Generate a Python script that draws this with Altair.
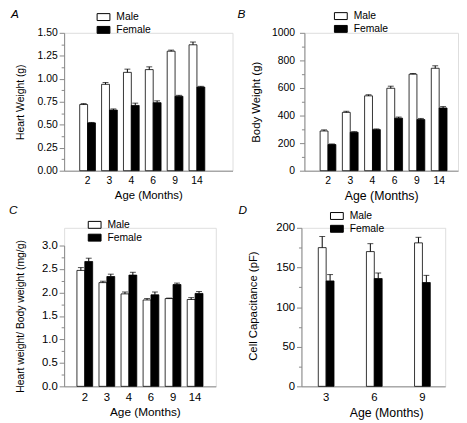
import altair as alt
import pandas as pd

FONT = "Liberation Sans"
sexes = ["Male", "Female"]

# Panel A: heart weight (g)
ages_abc = ["2", "3", "4", "6", "9", "14"]
heart_male = [0.72, 0.94, 1.07, 1.10, 1.30, 1.37]
heart_male_err = [0.01, 0.02, 0.035, 0.03, 0.012, 0.03]
heart_female = [0.52, 0.66, 0.71, 0.74, 0.81, 0.91]
heart_female_err = [0.005, 0.012, 0.025, 0.02, 0.01, 0.008]
heart_major = [0, 0.25, 0.5, 0.75, 1.0, 1.25, 1.5]
heart_minor = [0.125, 0.375, 0.625, 0.875, 1.125, 1.375]

# Panel B: body weight (g)
body_male = [288, 423, 543, 598, 700, 743]
body_male_err = [8, 8, 8, 15, 5, 18]
body_female = [190, 279, 298, 381, 371, 455]
body_female_err = [4, 4, 5, 8, 8, 10]
body_major = [0, 200, 400, 600, 800, 1000]
body_minor = [100, 300, 500, 700, 900]

# Panel C: heart weight / body weight (mg/g)
ratio_male = [2.47, 2.21, 1.97, 1.84, 1.87, 1.85]
ratio_male_err = [0.06, 0.03, 0.04, 0.03, 0.01, 0.04]
ratio_female = [2.66, 2.34, 2.37, 1.95, 2.17, 1.98]
ratio_female_err = [0.07, 0.05, 0.06, 0.06, 0.03, 0.04]
ratio_major = [0, 0.5, 1.0, 1.5, 2.0, 2.5, 3.0]
ratio_minor = [0.25, 0.75, 1.25, 1.75, 2.25, 2.75]

# Panel D: cell capacitance (pF)
ages_d = ["3", "6", "9"]
cap_male = [175, 170, 181]
cap_male_err = [14, 10, 7]
cap_female = [133, 136, 131]
cap_female_err = [8, 7, 9]
cap_major = [0, 50, 100, 150, 200]
cap_minor = [25, 75, 125, 175]

RECT = "M-1,-0.54H1V0.54H-1Z"


def make_df(ages, male, male_err, female, female_err):
    rows = []
    for a, v, e in zip(ages, male, male_err):
        rows.append({"age": a, "sex": "Male", "value": v, "top": v + e})
    for a, v, e in zip(ages, female, female_err):
        rows.append({"age": a, "sex": "Female", "value": v, "top": v + e})
    return pd.DataFrame(rows)


def panel(ages, male, male_err, female, female_err, *, letter, ytitle, ydomain,
          major, minor, fmt, width, height, p_in, p_out, align,
          letter_x, letter_y, leg_x, leg_y, lab_size, ytitle_size, xtitle_size,
          ytitle_pad, label_pad, ytop=0, ytitle_xy=None, xtitle_x=None):
    df = make_df(ages, male, male_err, female, female_err)
    xkw = dict(title="Age (Months)", labelAngle=0, ticks=False,
               labelFontSize=lab_size, titleFontSize=xtitle_size,
               labelPadding=5, titlePadding=4, titleFontWeight="normal")
    if xtitle_x is not None:
        xkw["titleX"] = xtitle_x
    x = alt.X("age:N", sort=ages,
              scale=alt.Scale(paddingInner=p_in, paddingOuter=p_out, align=align),
              axis=alt.Axis(**xkw))
    xo = alt.XOffset("sex:N", sort=sexes,
                     scale=alt.Scale(domain=sexes, paddingInner=0, paddingOuter=0))
    yscale = alt.Scale(domain=ydomain, nice=False, zero=True, range=[height, ytop])
    ykw = dict(title=ytitle, values=major, grid=False, format=fmt,
               tickSize=5, labelFontSize=lab_size,
               titleFontSize=ytitle_size, titlePadding=ytitle_pad,
               labelPadding=label_pad, titleFontWeight="normal")
    if ytitle_xy is not None:
        ykw["titleX"] = ytitle_xy[0]
        ykw["titleY"] = ytitle_xy[1]
    y_major = alt.Y("value:Q", scale=yscale, axis=alt.Axis(**ykw))
    y_minor = alt.Y("value:Q", scale=yscale,
                    axis=alt.Axis(title=None, values=minor, grid=False, labels=False,
                                  domain=False, tickSize=3, orient="left"))
    fill = alt.Fill("sex:N", sort=sexes,
                    scale=alt.Scale(domain=sexes, range=["white", "black"]),
                    legend=alt.Legend(title=None, orient="none", legendX=leg_x,
                                      legendY=leg_y, symbolType=RECT, symbolSize=169,
                                      symbolStrokeColor="black", symbolStrokeWidth=1,
                                      labelFontSize=10.5, labelFont=FONT,
                                      labelOffset=6, rowPadding=0, padding=0,
                                      labelColor="black"))
    base = alt.Chart(df)
    bars = base.mark_bar(stroke="black", strokeWidth=0.8).encode(x=x, xOffset=xo, y=y_major, fill=fill)
    err = base.mark_rule(color="black", strokeWidth=1).encode(
        x=x, xOffset=xo, y=y_minor, y2="top:Q")
    cap = base.mark_tick(color="black", thickness=1, size=6).encode(
        x=x, xOffset=xo, y=alt.Y("top:Q", axis=None))
    lab = alt.Chart(pd.DataFrame({"letter": [letter]})).mark_text(
        font=FONT, fontStyle="italic", fontSize=12, align="left", baseline="top",
        color="black").encode(text="letter:N", x=alt.value(letter_x), y=alt.value(letter_y))
    return alt.layer(bars, err, cap, lab).resolve_axis(y="independent").properties(
        width=width, height=height)


A = panel(ages_abc, heart_male, heart_male_err, heart_female, heart_female_err,
          letter="A", ytitle="Heart Weight (g)", ydomain=[0, 1.5], major=heart_major,
          minor=heart_minor, fmt=".2f", width=171, height=140, p_in=0.28, p_out=0.99,
          align=0.36, letter_x=-54, letter_y=-24, leg_x=33, leg_y=-23, lab_size=10.5,
          ytitle_size=10.5, xtitle_size=11.5, ytitle_pad=12, label_pad=2)
B = panel(ages_abc, body_male, body_male_err, body_female, body_female_err,
          letter="B", ytitle="Body Weight (g)", ydomain=[0, 1000], major=body_major,
          minor=body_minor, fmt="d", width=156, height=140, p_in=0.29, p_out=0.6,
          align=0.59, letter_x=-68, letter_y=-24, leg_x=30, leg_y=-24, lab_size=10.5,
          ytitle_size=11.5, xtitle_size=12.5, ytitle_pad=10, label_pad=5)
C = panel(ages_abc, ratio_male, ratio_male_err, ratio_female, ratio_female_err,
          letter="C", ytitle="Heart weight/ Body weight (mg/g)", ydomain=[0, 3],
          major=ratio_major, minor=ratio_minor, fmt=".1f", width=154, height=161,
          p_in=0.286, p_out=0.58, align=0.5, letter_x=-56, letter_y=-23, leg_x=24,
          leg_y=-10, lab_size=11.5, ytitle_size=10.5, xtitle_size=12, ytitle_pad=16,
          label_pad=2, ytop=18, xtitle_x=82)
D = panel(ages_d, cap_male, cap_male_err, cap_female, cap_female_err,
          letter="D", ytitle="Cell Capacitance (pF)", ydomain=[0, 200], major=cap_major,
          minor=cap_minor, fmt="d", width=146, height=161, p_in=0.673, p_out=0.33,
          align=0.53, letter_x=-64, letter_y=-23, leg_x=29, leg_y=-19, lab_size=11.5,
          ytitle_size=11.5, xtitle_size=12.5, ytitle_pad=16, label_pad=2,
          ytitle_xy=(-44, 79), xtitle_x=86)

row1 = alt.hconcat(A, B, spacing=3).resolve_scale(fill="independent", x="independent", y="independent").resolve_legend(fill="independent")
row2 = alt.hconcat(C, D, spacing=21).resolve_scale(fill="independent", x="independent", y="independent").resolve_legend(fill="independent")

chart = alt.vconcat(row1, row2, spacing=0).resolve_scale(
    fill="independent", x="independent", y="independent").resolve_legend(
    fill="independent").properties(padding={"top": -4, "left": 0, "right": 0, "bottom": 0}).configure_view(stroke=None).configure_axis(
    labelFont=FONT, titleFont=FONT, labelColor="black", titleColor="black",
    domainColor="black", tickColor="black", domainWidth=1, tickWidth=1).configure(
    background="white")

chart.save("out.html", embed_options={"renderer": "svg", "actions": False})
